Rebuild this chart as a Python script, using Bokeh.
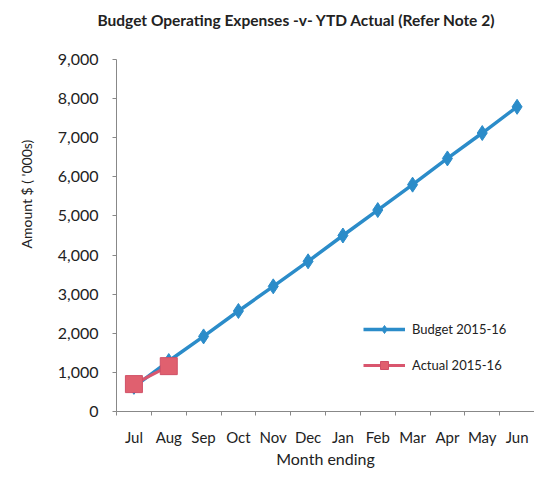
from bokeh.plotting import figure
from bokeh.models import (ColumnDataSource, FixedTicker, NumeralTickFormatter,
                          Range1d, Legend, LegendItem, Title)
from bokeh.embed import file_html
from bokeh.resources import INLINE

months = ["Jul", "Aug", "Sep", "Oct", "Nov", "Dec", "Jan", "Feb", "Mar", "Apr", "May", "Jun"]
budget = [630, 1290, 1920, 2570, 3200, 3840, 4500, 5150, 5800, 6470, 7120, 7790]
actual = [700, 1160]
y_ticks = [0, 1000, 2000, 3000, 4000, 5000, 6000, 7000, 8000, 9000]
title_text = "Budget Operating Expenses -v- YTD Actual (Refer Note 2)"
y_label = "Amount $ ( '000s)"

FONT = "Lato"
BLUE = "#2b8cc9"
PINK = "#d9566e"

xb = [i + 0.5 for i in range(len(months))]
xa = [i + 0.5 for i in range(len(actual))]

p = figure(width=534, height=470, output_backend="svg", toolbar_location=None,
           x_range=Range1d(0, len(months)), y_range=Range1d(0, 9000),
           min_border_left=114, min_border_right=0, min_border_top=59, min_border_bottom=0)
p.outline_line_color = None
p.background_fill_color = "white"
p.border_fill_color = "white"
p.xgrid.visible = False
p.ygrid.visible = False
p.title.visible = False

# spacer between frame and title, then the title itself
p.add_layout(Title(text=" ", text_font=FONT, text_font_size="10px", standoff=17), "above")
p.add_layout(Title(text=title_text, text_font=FONT, text_font_size="15.5px",
                   text_font_style="bold", text_color="#222222", align="left",
                   offset=-19, standoff=0), "above")

# x axis
p.xaxis.ticker = FixedTicker(ticks=xb, minor_ticks=list(range(len(months) + 1)))
p.xaxis.major_label_overrides = {x: m for x, m in zip(xb, months)}
p.xaxis.major_tick_out = 0
p.xaxis.major_tick_in = 0
p.xaxis.minor_tick_out = 4
p.xaxis.minor_tick_in = 0
p.xaxis.axis_line_color = "#888888"
p.xaxis.minor_tick_line_color = "#888888"
p.xaxis.major_label_text_font = FONT
p.xaxis.major_label_text_font_size = "15px"
p.xaxis.major_label_text_color = "#222222"
p.xaxis.major_label_standoff = 12
p.xaxis.axis_label = "Month ending"
p.xaxis.axis_label_text_font = FONT
p.xaxis.axis_label_text_font_size = "16px"
p.xaxis.axis_label_text_font_style = "normal"
p.xaxis.axis_label_text_color = "#222222"
p.xaxis.axis_label_standoff = 0

# y axis
p.yaxis.ticker = FixedTicker(ticks=y_ticks)
p.yaxis.formatter = NumeralTickFormatter(format="0,0")
p.yaxis.major_tick_out = 4
p.yaxis.major_tick_in = 0
p.yaxis.minor_tick_out = 0
p.yaxis.minor_tick_in = 0
p.yaxis.axis_line_color = "#888888"
p.yaxis.major_tick_line_color = "#888888"
p.yaxis.major_label_text_font = FONT
p.yaxis.major_label_text_font_size = "16px"
p.yaxis.major_label_text_color = "#222222"
p.yaxis.major_label_standoff = 14
p.yaxis.axis_label = None

# y-axis title placed in the left panel, upper part like the original
p.add_layout(Title(text=y_label, text_font=FONT, text_font_size="14px",
                   text_font_style="normal", text_color="#222222", align="left",
                   offset=163, standoff=35, vertical_align="top"), "left")

bsrc = ColumnDataSource(dict(x=xb, y=budget))
asrc = ColumnDataSource(dict(x=xa, y=actual))

bl = p.line("x", "y", source=bsrc, line_color=BLUE, line_width=3.5)
bm = p.scatter("x", "y", source=bsrc, marker="diamond", size=15,
               fill_color=BLUE, line_color=BLUE)
al = p.line("x", "y", source=asrc, line_color=PINK, line_width=3)
am = p.scatter("x", "y", source=asrc, marker="square", size=17,
               fill_color="#e0606f", line_color="#d05067")

legend = Legend(items=[LegendItem(label="Budget 2015-16", renderers=[bl, bm]),
                       LegendItem(label="Actual 2015-16", renderers=[al, am])],
                location=(247, 36), background_fill_alpha=0, border_line_color=None,
                label_text_font=FONT, label_text_font_size="13px",
                label_text_color="#222222", glyph_width=42, spacing=16,
                label_standoff=7)
p.add_layout(legend, "center")

open("out.html", "w").write(file_html(p, INLINE))
